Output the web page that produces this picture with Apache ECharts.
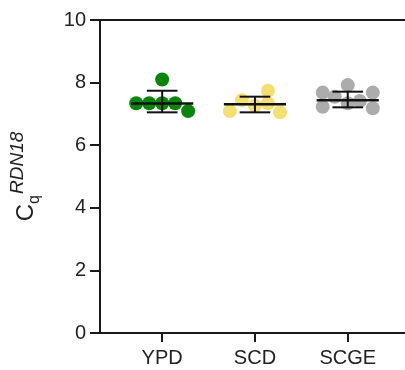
<!DOCTYPE html>
<html>
<head>
<meta charset="utf-8">
<script src="https://cdn.jsdelivr.net/npm/echarts@6/dist/echarts.min.js"></script>
<style>
  html, body { margin: 0; padding: 0; background: #fff; }
  #box { width: 405px; height: 370px; }
</style>
</head>
<body>
<div id="box"></div>
<script>
var categories = ['YPD', 'SCD', 'SCGE'];
var colors = ['#0a850a', '#f3df72', '#acacac'];

// points: [x position, Cq]
var ypdPoints = [[0.72, 7.34], [0.86, 7.34], [1.0, 7.34], [1.14, 7.34], [1.0, 8.1], [1.28, 7.09]];
var scdPoints = [[1.73, 7.09], [1.86, 7.44], [2.0, 7.26], [2.14, 7.74], [2.14, 7.34], [2.27, 7.05]];
var scgePoints = [[2.73, 7.68], [2.73, 7.23], [2.86, 7.55], [3.0, 7.92], [3.0, 7.34], [3.13, 7.41], [3.27, 7.68], [3.27, 7.18]];

// summary bars: centre, lower, upper
var centres = [7.33, 7.31, 7.44];
var lows = [7.05, 7.05, 7.21];
var highs = [7.74, 7.55, 7.71];

var yTicks = [0, 2, 4, 6, 8, 10];

var chart = echarts.init(document.getElementById('box'));

var barData = categories.map(function (c, i) {
    return [i + 1, centres[i], lows[i], highs[i]];
});

var axisColor = '#1a1a1a';
var fontFamily = 'Liberation Sans, Arial, sans-serif';

var option = {
    animation: false,
    grid: { left: 96, right: 0, top: 20, bottom: 37 },
    xAxis: [{
        type: 'value',
        min: 0.33,
        max: 3.617,
        axisLine: { show: true, lineStyle: { color: axisColor, width: 2 } },
        axisTick: { show: true, length: 9, lineStyle: { color: axisColor, width: 2 }, customValues: [1, 2, 3] },
        axisLabel: {
            customValues: [1, 2, 3],
            margin: 15,
            fontSize: 20,
            color: '#222',
            fontFamily: fontFamily,
            formatter: function (v) { return categories[Math.round(v) - 1]; }
        },
        splitLine: { show: false }
    }, {
        type: 'value',
        position: 'top',
        min: 0.33,
        max: 3.617,
        axisLine: { show: true, lineStyle: { color: axisColor, width: 2 } },
        axisTick: { show: false },
        axisLabel: { show: false },
        splitLine: { show: false }
    }],
    yAxis: {
        type: 'value',
        min: 0,
        max: 10,
        interval: 2,
        axisLine: { show: true, lineStyle: { color: axisColor, width: 2 } },
        axisTick: { show: true, length: 10, lineStyle: { color: axisColor, width: 2 } },
        axisLabel: {
            margin: 14,
            fontSize: 20,
            color: '#222',
            fontFamily: fontFamily,
            formatter: function (v) { return yTicks.indexOf(v) >= 0 ? String(v) : ''; }
        },
        splitLine: { show: false },
        name: '{c|C}{q|q}{s|RDN18}',
        nameLocation: 'middle',
        nameRotate: 90,
        nameGap: 56,
        nameTextStyle: {
            rich: {
                c: { fontSize: 24, color: '#222', fontFamily: fontFamily, lineHeight: 36, verticalAlign: 'middle' },
                q: { fontSize: 16, color: '#222', fontFamily: fontFamily, verticalAlign: 'bottom', lineHeight: 16, padding: [0, 1, 1, 0] },
                s: { fontSize: 19, color: '#222', fontFamily: fontFamily, fontStyle: 'italic', verticalAlign: 'top', lineHeight: 19 }
            }
        }
    },
    series: [
        { type: 'scatter', symbolSize: 14, itemStyle: { color: colors[0], opacity: 1 }, data: ypdPoints, z: 2 },
        { type: 'scatter', symbolSize: 14, itemStyle: { color: colors[1], opacity: 1 }, data: scdPoints, z: 2 },
        { type: 'scatter', symbolSize: 14, itemStyle: { color: colors[2], opacity: 1 }, data: scgePoints, z: 2 },
        {
            type: 'custom',
            z: 5,
            data: barData,
            renderItem: function (params, api) {
                var x = api.value(0);
                var c = api.coord([x, api.value(1)]);
                var lo = api.coord([x, api.value(2)]);
                var hi = api.coord([x, api.value(3)]);
                var mL = api.coord([x - 0.335, api.value(1)]);
                var mR = api.coord([x + 0.335, api.value(1)]);
                var wL = api.coord([x - 0.165, api.value(2)]);
                var wR = api.coord([x + 0.165, api.value(2)]);
                var st = { stroke: '#111', lineWidth: 2 };
                return {
                    type: 'group',
                    children: [
                        { type: 'line', shape: { x1: mL[0], y1: c[1], x2: mR[0], y2: c[1] }, style: { stroke: '#111', lineWidth: 2.5 } },
                        { type: 'line', shape: { x1: c[0], y1: lo[1], x2: c[0], y2: hi[1] }, style: st },
                        { type: 'line', shape: { x1: wL[0], y1: lo[1], x2: wR[0], y2: lo[1] }, style: st },
                        { type: 'line', shape: { x1: wL[0], y1: hi[1], x2: wR[0], y2: hi[1] }, style: st }
                    ]
                };
            }
        }
    ]
};

chart.setOption(option);
</script>
</body>
</html>
